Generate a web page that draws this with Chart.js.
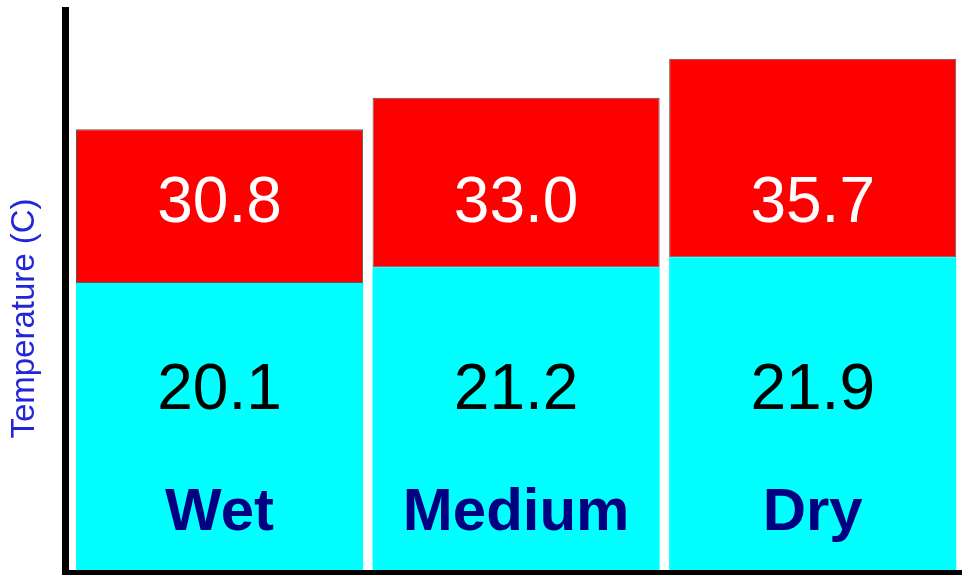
<!DOCTYPE html>
<html>
<head>
<meta charset="utf-8">
<script src="https://cdn.jsdelivr.net/npm/chart.js@4"></script>
<style>
  html, body { margin: 0; padding: 0; background: #fff; }
  #wrap { width: 962px; height: 575px; }
</style>
</head>
<body>
<div id="wrap"><canvas id="myChart"></canvas></div>
<script>
var categorias = ["Wet", "Medium", "Dry"];
var tempMin = [20.1, 21.2, 21.9];
var tempMax = [30.8, 33.0, 35.7];

var fuente = "'Liberation Sans', Arial, sans-serif";

// textos dentro de las barras
var etiquetas = {
  id: "etiquetas",
  afterDatasetsDraw: function (chart) {
    var ctx = chart.ctx;
    var y = chart.scales.y;
    var barras = chart.getDatasetMeta(0).data;
    ctx.save();
    ctx.textAlign = "center";
    ctx.textBaseline = "middle";
    barras.forEach(function (bar, i) {
      ctx.font = "64px " + fuente;
      ctx.fillStyle = "#ffffff";
      ctx.fillText(tempMax[i].toFixed(1), bar.x, y.getPixelForValue(25.6));
      ctx.fillStyle = "#000000";
      ctx.fillText(tempMin[i].toFixed(1), bar.x, y.getPixelForValue(12.6));
      ctx.font = "bold 60px " + fuente;
      ctx.fillStyle = "#000080";
      ctx.fillText(categorias[i], bar.x, y.getPixelForValue(4.1));
    });
    ctx.restore();
  },
};

// barra roja flotante entre la minima y la maxima
var rangos = tempMin.map(function (v, i) {
  return [v, tempMax[i]];
});

var datosChart = {
  labels: categorias,
  datasets: [
    {
      label: "Min",
      data: tempMin,
      backgroundColor: "#00ffff",
      borderWidth: 0,
      barPercentage: 0.968,
      categoryPercentage: 1,
    },
    {
      label: "Max",
      data: rangos,
      backgroundColor: "#ff0000",
      borderColor: "#5a5a5a",
      borderWidth: 1,
      borderSkipped: false,
      barPercentage: 0.968,
      categoryPercentage: 1,
    },
  ],
};

var ctx = document.getElementById("myChart").getContext("2d");
new Chart(ctx, {
  type: "bar",
  data: datosChart,
  plugins: [etiquetas],
  options: {
    responsive: true,
    maintainAspectRatio: false,
    animation: false,
    layout: { padding: { top: 10, right: 1, bottom: 3, left: 0 } },
    plugins: {
      legend: { display: false },
      tooltip: { enabled: false },
    },
    scales: {
      x: {
        stacked: true,
        grid: { display: false, drawTicks: false },
        ticks: { display: false },
        border: { display: true, color: "#000", width: 5, z: 1 },
      },
      y: {
        min: 0,
        max: 39.1,
        weight: 1,
        grid: { display: false, drawTicks: false, lineWidth: 5 },
        ticks: { display: false },
        border: { display: true, color: "#000", width: 7, z: 1 },
        title: {
          display: true,
          // los espacios bajan un poco el titulo
          text: "Temperature (C)      ",
          color: "#2424d8",
          font: { size: 33, family: fuente },
          padding: { top: 5, bottom: 0 },
        },
        afterFit: function (scale) {
          scale.width = 65.5;
        },
      },
      // separa el eje de la primera barra
      espacio: {
        position: "left",
        weight: 0,
        grid: { display: false, drawTicks: false },
        ticks: { display: false },
        border: { display: false },
        afterFit: function (scale) {
          scale.width = 5.75;
        },
      },
    },
  },
});
</script>
</body>
</html>
